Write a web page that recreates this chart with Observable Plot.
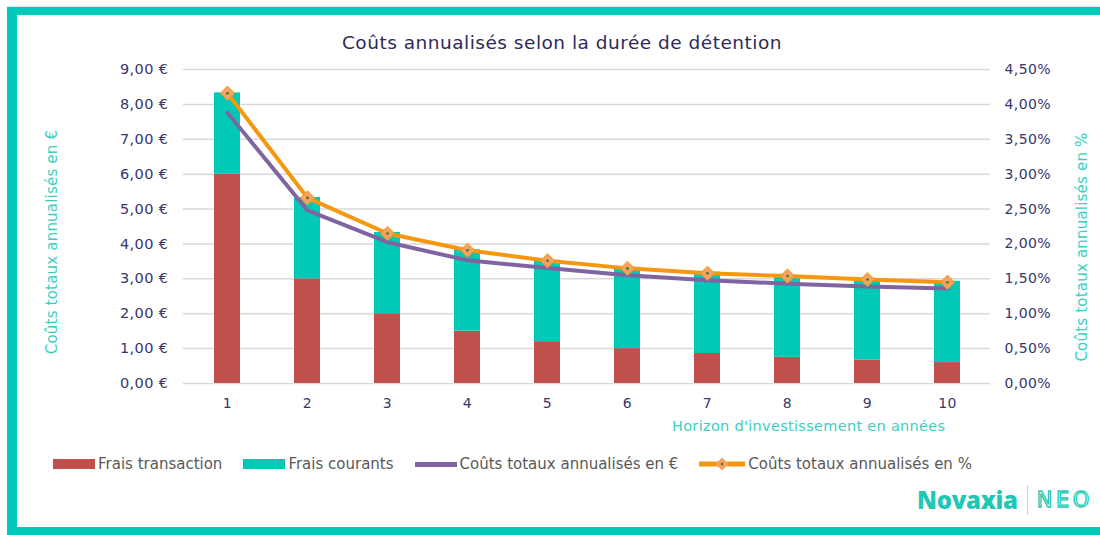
<!DOCTYPE html>
<html><head><meta charset="utf-8">
<script src="https://cdn.jsdelivr.net/npm/d3@7"></script>
<script src="https://cdn.jsdelivr.net/npm/@observablehq/plot@0.6"></script>
<style>
html,body{margin:0;padding:0;background:#fff}
body{width:1100px;height:535px;overflow:hidden;position:relative;font-family:"DejaVu Sans",sans-serif}
.bt{position:absolute;left:7px;top:7px;width:1093px;height:8px;background:#00C9B7;box-shadow:0 -1px 2px #ddd}
.bl{position:absolute;left:7px;top:7px;width:10px;height:528px;background:#00C9B7}
.bb{position:absolute;left:7px;top:527px;width:1093px;height:8px;background:#00C9B7}
#chart{position:absolute;left:0;top:0}
.title{position:absolute;left:0;width:1124px;top:32px;text-align:center;font-size:18.5px;letter-spacing:0.5px;color:#2D2A5A}
.ylab{position:absolute;font-size:15px;letter-spacing:0.2px;color:#3CCFBF;white-space:nowrap;transform:translate(-50%,-50%) rotate(-90deg)}
.xlab{position:absolute;left:672px;top:418px;font-size:14.5px;letter-spacing:0.3px;color:#3CCFBF;white-space:nowrap}
.legend{position:absolute;top:455px;left:53px;display:flex;align-items:center;font-size:15px;color:#595959;white-space:nowrap}
.legend .it{display:flex;align-items:center;margin-right:21px}
.legend .sw{display:inline-block;width:42px;height:10px;margin-right:3px}
.legend .ln{display:inline-block;width:42px;height:5px;margin-right:3px}
.logo{position:absolute;left:917px;top:483px;display:flex;align-items:center}
.logo .nov{font-family:"Open Sans",sans-serif;font-weight:800;font-size:24px;color:#1EC8B4;letter-spacing:-0.3px}
.logo .sep{width:1px;height:30px;background:#9ee6dc;margin:0 9px}
.logo .neo{font-family:"DejaVu Sans",sans-serif;font-size:21px;color:#fff;-webkit-text-stroke:1.3px #1EC8B4;letter-spacing:3.5px}
</style></head><body>
<div class="bt"></div><div class="bl"></div><div class="bb"></div>
<div id="chart"></div>
<div class="title">Coûts annualisés selon la durée de détention</div>
<div class="ylab" style="left:52px;top:242px">Coûts totaux annualisés en €</div>
<div class="ylab" style="left:1082px;top:247px">Coûts totaux annualisés en %</div>
<div class="xlab">Horizon d'investissement en années</div>
<div class="legend" id="legend"></div>
<div class="logo"><span class="nov">Novaxia</span><span class="sep"></span><span class="neo">NEO</span></div>
<script>
const years = [1, 2, 3, 4, 5, 6, 7, 8, 9, 10];
const fraisTransaction = [6.00, 3.00, 2.00, 1.50, 1.20, 1.00, 0.86, 0.75, 0.67, 0.60];
const fraisCourants = [2.33, 2.33, 2.33, 2.33, 2.33, 2.33, 2.33, 2.33, 2.33, 2.33];
const coutsEuro = [7.76, 4.96, 4.05, 3.53, 3.31, 3.10, 2.96, 2.86, 2.78, 2.72];
const coutsPct = [4.16, 2.66, 2.15, 1.91, 1.76, 1.65, 1.58, 1.54, 1.49, 1.45];
const seriesNames = ["Frais transaction", "Frais courants", "Coûts totaux annualisés en €", "Coûts totaux annualisés en %"];
const colors = ["#C0504D", "#00C9B7", "#8064A2", "#F7960F"];
const eurTicks = [0, 1, 2, 3, 4, 5, 6, 7, 8, 9];

const bars = [];
years.forEach((y, i) => {
  bars.push({year: y, type: seriesNames[0], value: fraisTransaction[i]});
  bars.push({year: y, type: seriesNames[1], value: fraisCourants[i]});
});
const eur = years.map((y, i) => ({year: y, value: coutsEuro[i]}));
const pct = years.map((y, i) => ({year: y, pct: coutsPct[i]}));
// right axis: 4.5% <-> 9 €
const pctToEur = p => p * 2;
const fmtEur = d => d.toFixed(2).replace(".", ",") + " €";
const fmtPct = d => (d / 2).toFixed(2).replace(".", ",") + "%";

const plot = Plot.plot({
  width: 1100, height: 440,
  marginLeft: 183, marginRight: 110, marginTop: 69, marginBottom: 57,
  style: {fontFamily: "'DejaVu Sans', sans-serif", fontSize: "14px", color: "#36366A", background: "transparent", letterSpacing: "0.4px"},
  x: {type: "band", domain: years, paddingInner: 0.68, paddingOuter: 0.34},
  y: {domain: [0, 9]},
  color: {domain: seriesNames, range: colors},
  marks: [
    Plot.gridY(eurTicks, {stroke: "#D9D9D9", strokeOpacity: 1, strokeWidth: 1.5}),
    Plot.barY(bars, {x: "year", y: "value", fill: "type", order: seriesNames}),
    Plot.line(eur, {x: "year", y: "value", stroke: colors[2], strokeWidth: 4, strokeLinejoin: "round", strokeLinecap: "round"}),
    Plot.line(pct, {x: "year", y: d => pctToEur(d.pct), stroke: colors[3], strokeWidth: 4, strokeLinejoin: "round"}),
    Plot.dot(pct, {x: "year", y: d => pctToEur(d.pct), symbol: "diamond2", r: 6.5, fill: "#F4A35E", stroke: "#F7960F", strokeWidth: 0.8}),
    Plot.dot(pct, {x: "year", y: d => pctToEur(d.pct), r: 1.3, fill: "#4F6A3A"}),
    Plot.axisY(eurTicks, {anchor: "left", tickSize: 0, tickPadding: 15, tickFormat: fmtEur, label: null, fontSize: 14.5}),
    Plot.axisY(eurTicks, {anchor: "right", tickSize: 0, tickPadding: 14, tickFormat: fmtPct, label: null, fontSize: 14}),
    Plot.axisX({tickSize: 0, tickPadding: 15, label: null, fontSize: 14})
  ]
});
document.getElementById("chart").appendChild(plot);

const leg = document.getElementById("legend");
seriesNames.forEach((n, i) => {
  const it = document.createElement("span");
  it.className = "it";
  let sw;
  if (i < 2) {
    sw = `<span class="sw" style="background:${colors[i]}"></span>`;
  } else if (i === 2) {
    sw = `<span class="ln" style="background:${colors[i]}"></span>`;
  } else {
    sw = `<svg width="46" height="14" style="margin-right:3px"><line x1="0" x2="46" y1="7" y2="7" stroke="${colors[3]}" stroke-width="5"/><path d="M23,0.5 L29.5,7 L23,13.5 L16.5,7Z" fill="#F4A35E"/><circle cx="23" cy="7" r="1.2" fill="#4F6A3A"/></svg>`;
  }
  it.innerHTML = sw + `<span>${n}</span>`;
  leg.appendChild(it);
});
</script>
</body></html>
